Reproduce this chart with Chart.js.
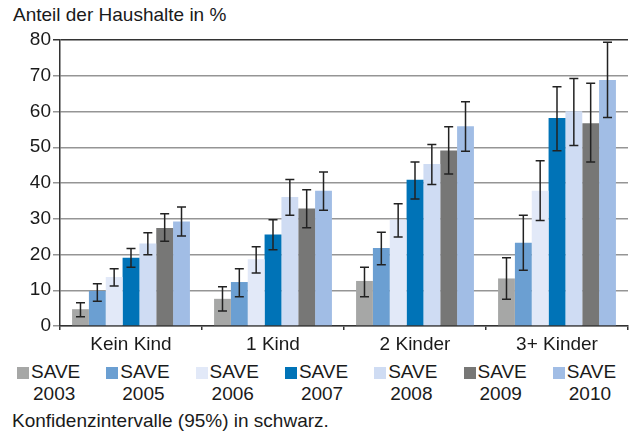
<!DOCTYPE html>
<html>
<head>
<meta charset="utf-8">
<script src="https://cdn.jsdelivr.net/npm/chart.js@4.4.1/dist/chart.umd.min.js"></script>
<style>
  html, body { margin: 0; padding: 0; background: #fff; }
  body { width: 637px; height: 432px; position: relative; overflow: hidden;
         font-family: "Liberation Sans", Arial, sans-serif; color: #1a1a1a; }
  #wrap { position: absolute; left: 0; top: 0; width: 637px; height: 356px; }
  .title { position: absolute; left: 13px; top: 4px; font-size: 19px; line-height: 22px; }
  .note { position: absolute; left: 12px; top: 410px; font-size: 19px; line-height: 22px; }
  .leg { position: absolute; top: 361px; font-size: 19px; line-height: 22px; }
  .leg .box { position: absolute; left: 0; top: 6px; width: 12px; height: 12px; }
  .leg .txt { position: absolute; left: 14px; top: 0; white-space: nowrap; }
  .leg .txt span { display: block; }
  .leg .txt span + span { padding-left: 2px; }
</style>
</head>
<body>
<div class="title">Anteil der Haushalte in %</div>
<div id="wrap"><canvas id="chart"></canvas></div>
<div id="legend"></div>
<div class="note">Konfidenzintervalle (95%) in schwarz.</div>
<script>
// categories and survey waves
const categories = ['Kein Kind', '1 Kind', '2 Kinder', '3+ Kinder']
const years = ['2003', '2005', '2006', '2007', '2008', '2009', '2010']
const yTicks = [0, 10, 20, 30, 40, 50, 60, 70, 80]

// share of households per wave
const save2003 = [4.7, 7.6, 12.6, 13.3]
const save2005 = [9.8, 12.3, 21.8, 23.3]
const save2006 = [13.7, 18.7, 29.7, 37.8]
const save2007 = [19.1, 25.6, 40.9, 58.2]
const save2008 = [23.1, 36.1, 45.3, 60.1]
const save2009 = [27.4, 32.9, 49.1, 56.7]
const save2010 = [29.2, 37.8, 55.9, 68.8]

// 95% confidence intervals [low, high]
const ci2003 = [[2.6, 6.5], [4.2, 11.0], [8.2, 16.4], [7.5, 19.1]]
const ci2005 = [[6.9, 11.8], [8.2, 16.0], [17.1, 26.2], [15.6, 31.0]]
const ci2006 = [[11.2, 16.0], [14.8, 22.2], [24.9, 34.2], [29.5, 46.2]]
const ci2007 = [[16.4, 21.7], [21.3, 29.7], [35.5, 45.9], [49.0, 66.9]]
const ci2008 = [[19.9, 26.1], [31.0, 41.0], [39.6, 50.8], [50.5, 69.2]]
const ci2009 = [[23.7, 31.4], [27.5, 38.1], [42.5, 55.7], [45.9, 67.9]]
const ci2010 = [[25.2, 33.3], [32.4, 43.1], [48.9, 62.7], [58.3, 79.4]]

const colors = ['#a6a7a6', '#6b9fd2', '#e2e9f8', '#0073b7', '#cfdcf3', '#777776', '#a1bde5']
const values = [save2003, save2005, save2006, save2007, save2008, save2009, save2010]
const intervals = [ci2003, ci2005, ci2006, ci2007, ci2008, ci2009, ci2010]

const font = { family: '"Liberation Sans", Arial, sans-serif', size: 19 }

// draws the whiskers from the ci arrays
const errorBars = {
  id: 'errorBars',
  afterDatasetsDraw(chart) {
    const ctx = chart.ctx
    const y = chart.scales.y
    ctx.save()
    ctx.strokeStyle = '#222'
    ctx.lineWidth = 1.5
    chart.data.datasets.forEach((ds, i) => {
      const meta = chart.getDatasetMeta(i)
      meta.data.forEach((bar, j) => {
        const [lo, hi] = ds.ci[j]
        const yl = y.getPixelForValue(lo)
        const yh = y.getPixelForValue(hi)
        const cap = 4.5
        ctx.beginPath()
        ctx.moveTo(bar.x, yl); ctx.lineTo(bar.x, yh)
        ctx.moveTo(bar.x - cap, yl); ctx.lineTo(bar.x + cap, yl)
        ctx.moveTo(bar.x - cap, yh); ctx.lineTo(bar.x + cap, yh)
        ctx.stroke()
      })
    })
    ctx.restore()
  }
}

new Chart(document.getElementById('chart'), {
  type: 'bar',
  data: {
    labels: categories,
    datasets: years.map((yr, i) => ({
      label: 'SAVE ' + yr,
      data: values[i],
      ci: intervals[i],
      backgroundColor: colors[i],
      borderWidth: 0,
      categoryPercentage: 0.83,
      barPercentage: 1.0
    }))
  },
  options: {
    responsive: true,
    maintainAspectRatio: false,
    animation: false,
    layout: { padding: { top: 40, right: 9, left: 0, bottom: 0 } },
    plugins: { legend: { display: false }, tooltip: { enabled: false } },
    scales: {
      x: {
        grid: { drawOnChartArea: false, drawTicks: true, tickLength: 4, color: '#333', lineWidth: 1.5 },
        border: { display: true, color: '#333', width: 1.5 },
        ticks: { font: font, color: '#1a1a1a', padding: 3 },
        afterFit(s) { s.height = 30 }
      },
      y: {
        min: 0,
        max: 80,
        afterBuildTicks(s) { s.ticks = yTicks.map(v => ({ value: v })) },
        grid: {
          color: ctx => ctx.tick && ctx.tick.value === 80 ? '#333' : '#959595',
          lineWidth: 1.5,
          tickLength: 7
        },
        border: { display: true, color: '#333', width: 1.5 },
        ticks: { font: font, color: '#1a1a1a', padding: 2 },
        afterFit(s) { s.width = 60 }
      }
    }
  },
  plugins: [errorBars]
})

// legend below the chart
const legend = document.getElementById('legend')
years.forEach((yr, i) => {
  const item = document.createElement('div')
  item.className = 'leg'
  item.style.left = (17 + i * 89.3) + 'px'
  item.innerHTML = '<div class="box" style="background:' + colors[i] + '"></div>' +
    '<div class="txt"><span>SAVE</span><span>' + yr + '</span></div>'
  legend.appendChild(item)
})
</script>
</body>
</html>
